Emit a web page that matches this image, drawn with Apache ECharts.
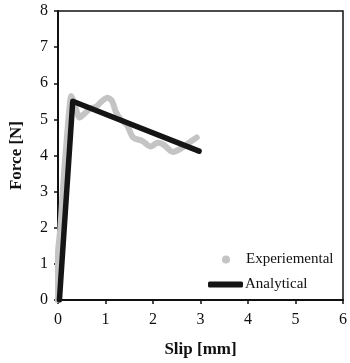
<!DOCTYPE html>
<html>
<head>
<meta charset="utf-8">
<script src="https://cdn.jsdelivr.net/npm/echarts@6/dist/echarts.min.js"></script>
<style>
  html, body { margin: 0; padding: 0; background: #fff; }
  #chart { width: 350px; height: 363px; }
</style>
</head>
<body>
<div id="chart"></div>
<script>
// measured slip [mm] / force [N]
var expSlip  = [-0.01, 0.0, 0.05, 0.10, 0.15, 0.20, 0.24, 0.28, 0.33, 0.40, 0.45, 0.55, 0.68, 0.80, 0.92, 1.04, 1.14, 1.22, 1.32, 1.45, 1.58, 1.78, 1.95, 2.10, 2.22, 2.42, 2.60, 2.75, 2.92];
var expForce = [0.0, 1.3, 2.0, 3.0, 3.9, 4.7, 5.3, 5.65, 5.5, 5.2, 5.05, 5.15, 5.3, 5.35, 5.5, 5.6, 5.5, 5.2, 5.0, 4.85, 4.5, 4.4, 4.25, 4.35, 4.3, 4.1, 4.2, 4.35, 4.5];
// analytical model
var anaSlip  = [0.03, 0.31, 2.97];
var anaForce = [0.0, 5.5, 4.12];

var xTicks = { min: 0, max: 6, interval: 1 };
var yTicks = { min: 0, max: 8, interval: 1 };

var serif = 'Liberation Serif, Times New Roman, serif';

function pairs(xs, ys) {
  return xs.map(function (x, i) { return [x, ys[i]]; });
}

var chart = echarts.init(document.getElementById('chart'));
chart.setOption({
  animation: false,
  grid: { left: 57, top: 11, right: 6, bottom: 62, show: true, borderColor: '#111', borderWidth: 1.5 },
  legend: [{
    data: [{ name: 'Experiemental', icon: 'circle' }],
    left: 217, top: 247, itemWidth: 8, itemHeight: 8,
    textStyle: { fontFamily: serif, fontSize: 15, color: '#111', padding: [0, 0, 0, 11] }
  }, {
    data: [{ name: 'Analytical', icon: 'roundRect' }],
    left: 203, top: 272, itemWidth: 35, itemHeight: 6,
    textStyle: { fontFamily: serif, fontSize: 15, color: '#111', padding: [0, 0, 0, -3] }
  }],
  xAxis: {
    type: 'value', min: xTicks.min, max: xTicks.max, interval: xTicks.interval,
    name: 'Slip [mm]', nameLocation: 'middle', nameGap: 41,
    nameTextStyle: { fontFamily: serif, fontSize: 17, fontWeight: 'bold', color: '#111' },
    axisLine: { lineStyle: { color: '#111', width: 2 } },
    axisTick: { length: 4, lineStyle: { color: '#111', width: 1.5 } },
    axisLabel: { fontFamily: serif, fontSize: 16, color: '#111', margin: 12 },
    splitLine: { show: false }
  },
  yAxis: {
    type: 'value', min: yTicks.min, max: yTicks.max, interval: yTicks.interval,
    name: 'Force [N]', nameLocation: 'middle', nameGap: 33,
    nameTextStyle: { fontFamily: serif, fontSize: 17, fontWeight: 'bold', color: '#111' },
    axisLine: { lineStyle: { color: '#111', width: 2 } },
    axisTick: { length: 4, lineStyle: { color: '#111', width: 1.5 } },
    axisLabel: { fontFamily: serif, fontSize: 16, color: '#111', margin: 10 },
    splitLine: { show: false }
  },
  series: [{
    name: 'Experiemental',
    type: 'line',
    data: pairs(expSlip, expForce),
    showSymbol: false,
    smooth: 0.3,
    itemStyle: { color: '#c4c4c4' },
    lineStyle: { color: '#c4c4c4', width: 6, cap: 'round', join: 'round' }
  }, {
    name: 'Analytical',
    type: 'line',
    data: pairs(anaSlip, anaForce),
    showSymbol: false,
    itemStyle: { color: '#151515' },
    lineStyle: { color: '#151515', width: 5.5, cap: 'round', join: 'round' }
  }]
});
</script>
</body>
</html>
